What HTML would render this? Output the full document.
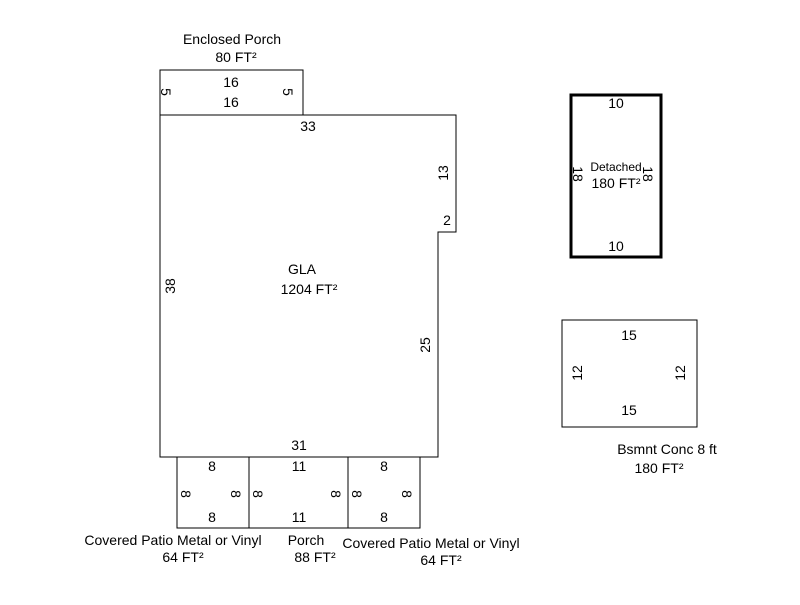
<!DOCTYPE html>
<html><head><style>
html,body{margin:0;padding:0;background:#fff;}
svg text{font-family:"Liberation Sans",Arial,sans-serif;font-size:14px;fill:#000;}
</style></head><body>
<svg width="800" height="600" xmlns="http://www.w3.org/2000/svg">
<g fill="none" stroke="#000" stroke-width="1">
<rect x="160" y="70" width="143" height="45"/>
<path d="M160 115 H456 V232 H438 V457 H160 Z"/>
<rect x="177" y="457" width="72" height="71"/>
<rect x="249" y="457" width="99" height="71"/>
<rect x="348" y="457" width="72" height="71"/>
<rect x="562" y="320" width="135" height="107"/>
</g>
<rect x="571" y="95" width="90" height="162" fill="none" stroke="#000" stroke-width="3"/>
<g text-anchor="middle">
<text x="232" y="44">Enclosed Porch</text>
<text x="236" y="62">80 FT²</text>
<text x="231" y="87">16</text>
<text x="231" y="107">16</text>
<text transform="translate(166,92) rotate(90)" dy="5">5</text>
<text transform="translate(288,92) rotate(90)" dy="5">5</text>
<text x="308" y="131">33</text>
<text transform="translate(443,173) rotate(-90)" dy="5">13</text>
<text x="447" y="225">2</text>
<text x="302" y="274">GLA</text>
<text x="309" y="294">1204 FT²</text>
<text transform="translate(170,286) rotate(-90)" dy="5">38</text>
<text transform="translate(425,345) rotate(-90)" dy="5">25</text>
<text x="299" y="450">31</text>
<text x="212" y="471">8</text>
<text x="212" y="522">8</text>
<text transform="translate(186,494) rotate(90)" dy="5">8</text>
<text transform="translate(236,494) rotate(90)" dy="5">8</text>
<text x="299" y="471">11</text>
<text x="299" y="522">11</text>
<text transform="translate(258,494) rotate(90)" dy="5">8</text>
<text transform="translate(336,494) rotate(90)" dy="5">8</text>
<text x="384" y="471">8</text>
<text x="384" y="522">8</text>
<text transform="translate(357,494) rotate(90)" dy="5">8</text>
<text transform="translate(407,494) rotate(90)" dy="5">8</text>
<text x="173" y="545">Covered Patio Metal or Vinyl</text>
<text x="183" y="562">64 FT²</text>
<text x="306" y="545">Porch</text>
<text x="315" y="562">88 FT²</text>
<text x="431" y="548">Covered Patio Metal or Vinyl</text>
<text x="441" y="565">64 FT²</text>
<text x="616" y="108">10</text>
<text x="616" y="251">10</text>
<text x="616" y="171" style="font-size:12px">Detached</text>
<text x="616" y="188">180 FT²</text>
<text transform="translate(578,174) rotate(90)" dy="5">18</text>
<text transform="translate(648,174) rotate(90)" dy="5">18</text>
<text x="629" y="340">15</text>
<text x="629" y="415">15</text>
<text transform="translate(577,373) rotate(-90)" dy="5">12</text>
<text transform="translate(680,373) rotate(-90)" dy="5">12</text>
<text x="667" y="454">Bsmnt Conc 8 ft</text>
<text x="659" y="473">180 FT²</text>
</g>
</svg>
</body></html>
